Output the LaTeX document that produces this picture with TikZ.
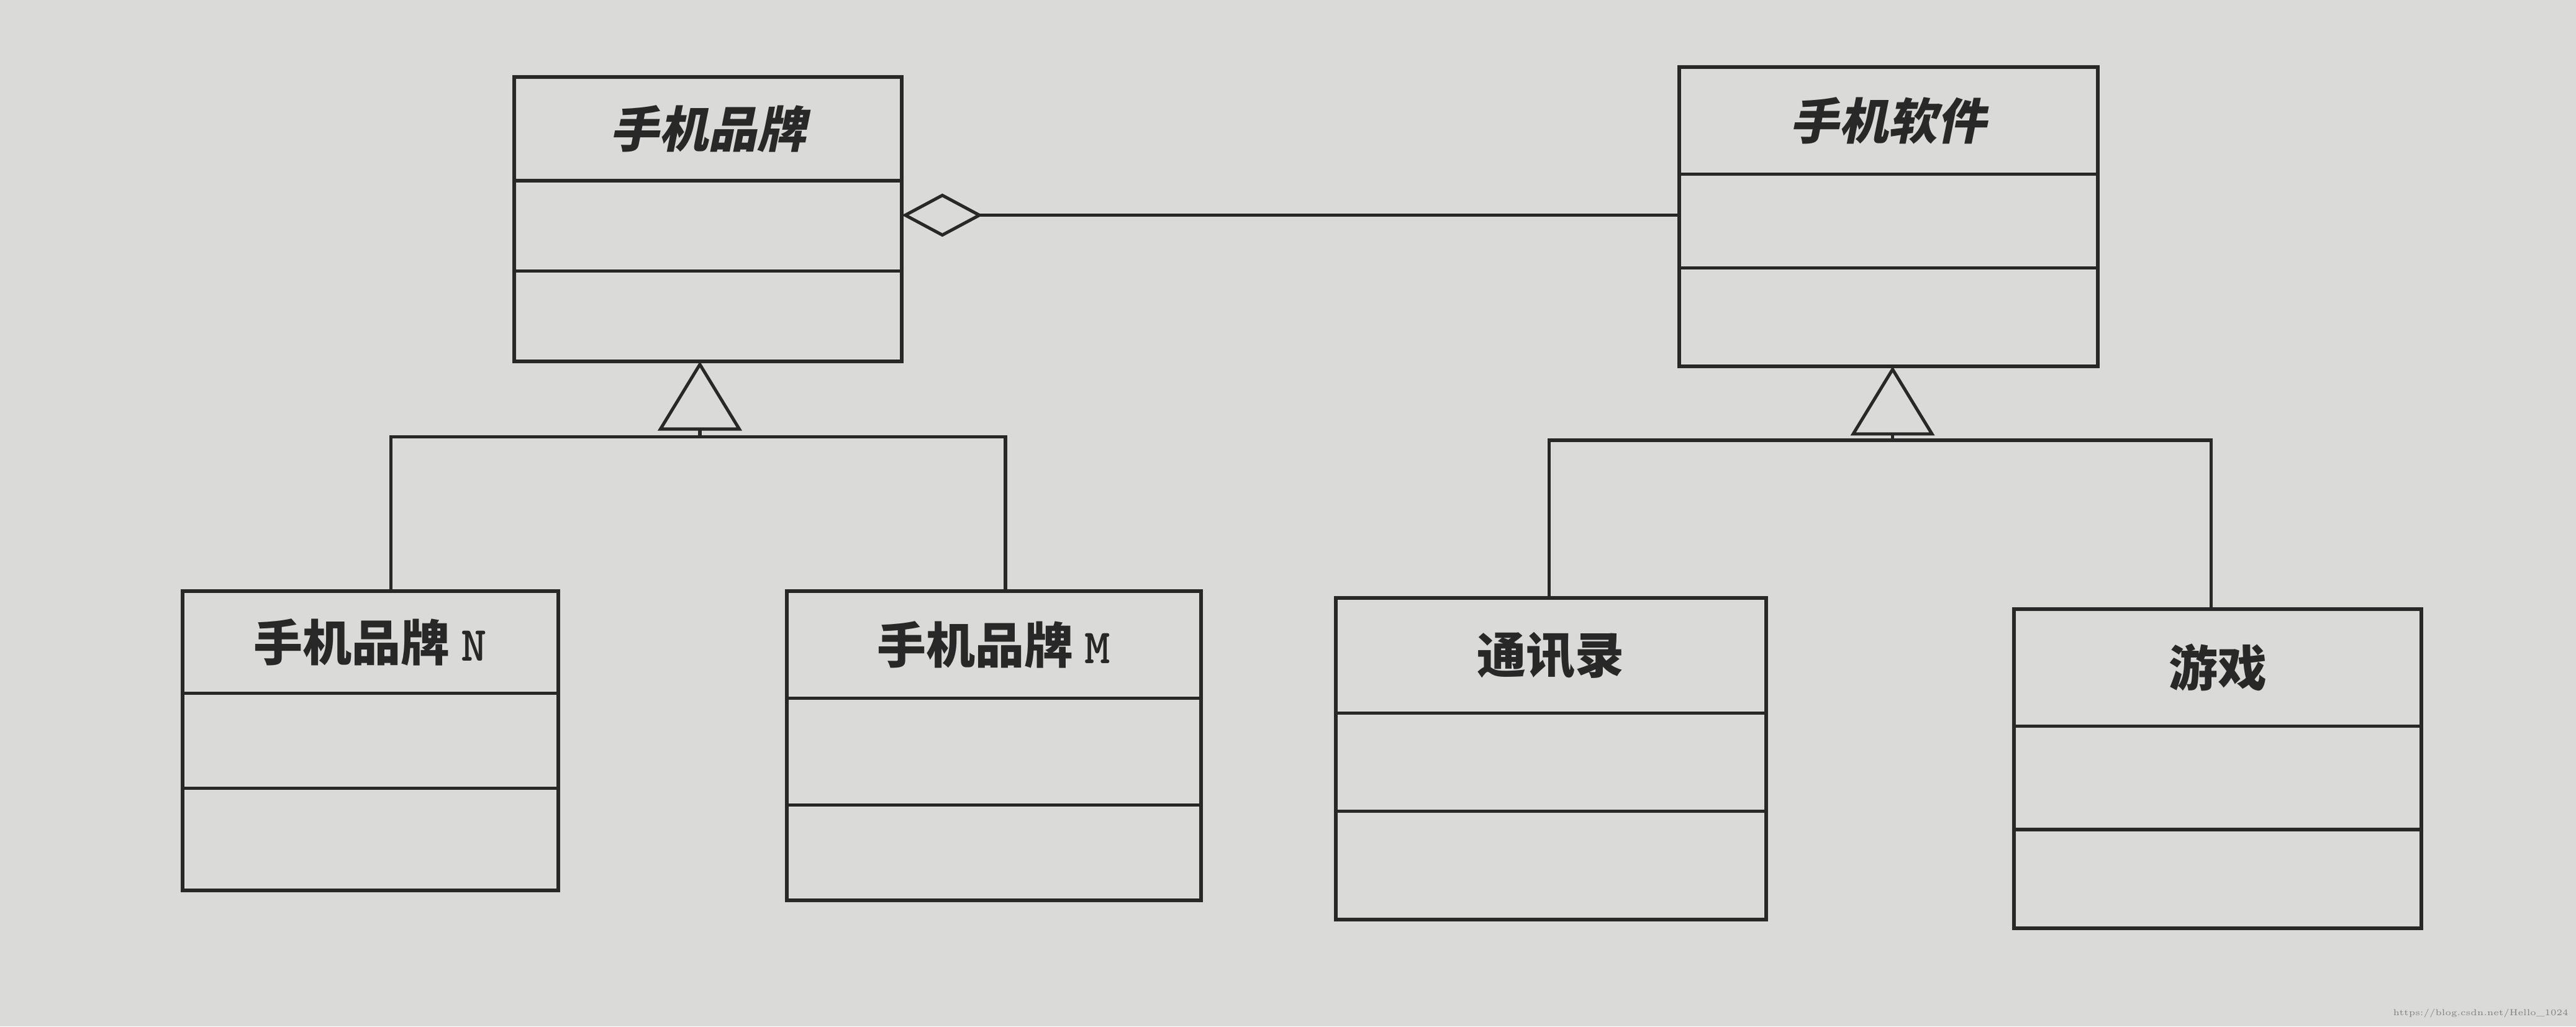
\documentclass[tikz,border=0pt]{standalone}
\usepackage{fontspec}
\newfontfamily\cjk{Noto Sans CJK SC}
\newfontfamily\cjkit[FakeSlant=0.2]{Noto Sans CJK SC}
\usetikzlibrary{arrows.meta}
\definecolor{paper}{RGB}{218,218,216}
\definecolor{ink}{RGB}{40,40,40}

% class box: name, left, top, right, bottom, divider 1, divider 2, title
\newcommand{\umlclass}[8]{%
  \node (#1) [classbox, minimum width={(#4-#2)*0.02cm}, minimum height={(#5-#3)*0.02cm},
    anchor=north west] at (#2,#3) {};
  \draw[ink, line width=1.1pt] (#2,#6) -- (#4,#6);
  \draw[ink, line width=1.1pt] (#2,#7) -- (#4,#7);
  \node (#1-title) at ({(#2+#4)/2},{(#3+#6)/2}) [classtitle] {#8};
}

\begin{document}
\begin{tikzpicture}[x=0.02cm, y=-0.02cm]
  \tikzstyle{classbox}=[draw=ink, line width=1.3pt, inner sep=0pt, outer sep=0pt]
  \tikzstyle{classtitle}=[text=ink, font=\cjk\bfseries\fontsize{17}{17}\selectfont]
  \tikzstyle{link}=[draw=ink, line width=1.1pt]

  \fill[paper] (0,0) rectangle (1568,625);
  \useasboundingbox (0,0) rectangle (1568,625);

  \umlclass{brand}{313}{47}{549}{220}{110}{165}{\cjkit 手机品牌}
  \umlclass{soft}{1022}{41}{1277}{223}{106}{163}{\cjkit 手机软件}
  \umlclass{brandN}{111}{360}{340}{542}{422}{480}{手机品牌 \texttt{N}}
  \umlclass{brandM}{479}{360}{731}{548}{425}{490}{手机品牌 \texttt{M}}
  \umlclass{contacts}{813}{364}{1075}{560}{434}{494}{通讯录}
  \umlclass{game}{1226}{371}{1474}{565}{442}{505}{游戏}

  \coordinate (agg) at (549,131);
  \coordinate (brandfork) at (426,266);
  \coordinate (softfork) at (1152,268);

  % aggregation
  \draw[link, {Diamond[open, length=28pt, width=15pt, line width=1.1pt]}-] (agg) -- (agg -| soft.west);

  % generalisation
  \draw[link, -{Triangle[open, length=24pt, width=29pt, line width=1.1pt]}] (brandfork) -- (426,220);
  \draw[link] (brandN.north -| 238,0) |- (brandfork) -| (brandM.north -| 612,0);
  \draw[link, -{Triangle[open, length=24pt, width=29pt, line width=1.1pt]}] (softfork) -- (1152,223);
  \draw[link] (contacts.north -| 943,0) |- (softfork) -| (game.north -| 1346,0);

  \node (url) at (1510,617) [text=gray, font=\fontsize{3}{3}\selectfont] {https://blog.csdn.net/Hello\_1024};
\end{tikzpicture}
\end{document}
